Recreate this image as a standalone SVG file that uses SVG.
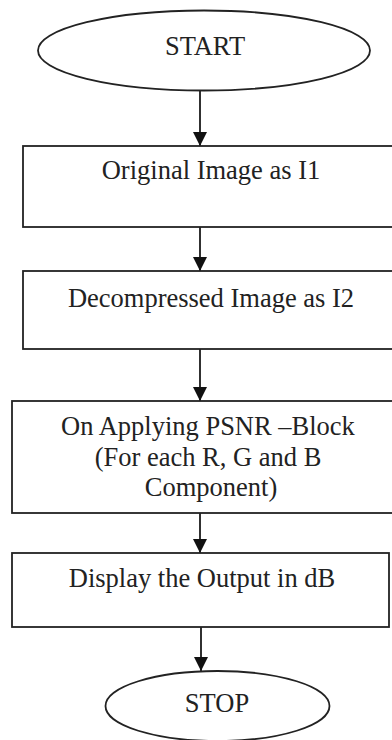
<svg xmlns="http://www.w3.org/2000/svg" width="392" height="740" viewBox="0 0 392 740">
  <style>
    .shape { fill: #ffffff; stroke: #222222; stroke-width: 1.8; }
    .label { font-family: "Liberation Serif", "Times New Roman", serif; font-size: 26.5px; fill: #222222; text-anchor: middle; }
    .edge { stroke: #1a1a1a; stroke-width: 1.8; fill: none; }
  </style>
  <defs>
    <marker id="arrow" markerUnits="userSpaceOnUse" markerWidth="14" markerHeight="15" refX="14" refY="7" orient="auto">
      <path d="M0,0 L14,7 L0,14 Z" fill="#111111"/>
    </marker>
  </defs>

  <rect width="392" height="740" fill="#ffffff"/>

  <g id="connectors">
    <line class="edge" x1="200" y1="91" x2="200" y2="146" marker-end="url(#arrow)"/>
    <line class="edge" x1="200" y1="227" x2="200" y2="271" marker-end="url(#arrow)"/>
    <line class="edge" x1="200" y1="349" x2="200" y2="401" marker-end="url(#arrow)"/>
    <line class="edge" x1="200" y1="513" x2="200" y2="553" marker-end="url(#arrow)"/>
    <line class="edge" x1="201" y1="627" x2="201" y2="671" marker-end="url(#arrow)"/>
  </g>

  <g id="start">
    <ellipse class="shape" cx="204" cy="50.5" rx="166" ry="40"/>
    <text class="label" x="205" y="55">START</text>
  </g>

  <g id="original-image">
    <rect class="shape" x="23" y="146" width="380" height="81"/>
    <text class="label" x="211" y="179">Original Image as I1</text>
  </g>

  <g id="decompressed-image">
    <rect class="shape" x="23" y="271" width="380" height="78"/>
    <text class="label" x="211" y="307">Decompressed Image as I2</text>
  </g>

  <g id="psnr-block">
    <rect class="shape" x="12" y="401" width="400" height="112"/>
    <text class="label" x="208" y="435">On Applying PSNR –Block</text>
    <text class="label" x="208" y="466">(For each R, G and B</text>
    <text class="label" x="211" y="496">Component)</text>
  </g>

  <g id="display-output">
    <rect class="shape" x="12" y="553" width="377" height="74"/>
    <text class="label" x="202" y="587">Display the Output in dB</text>
  </g>

  <g id="stop">
    <ellipse class="shape" cx="217.5" cy="706" rx="112" ry="35"/>
    <text class="label" x="217" y="712">STOP</text>
  </g>
</svg>
